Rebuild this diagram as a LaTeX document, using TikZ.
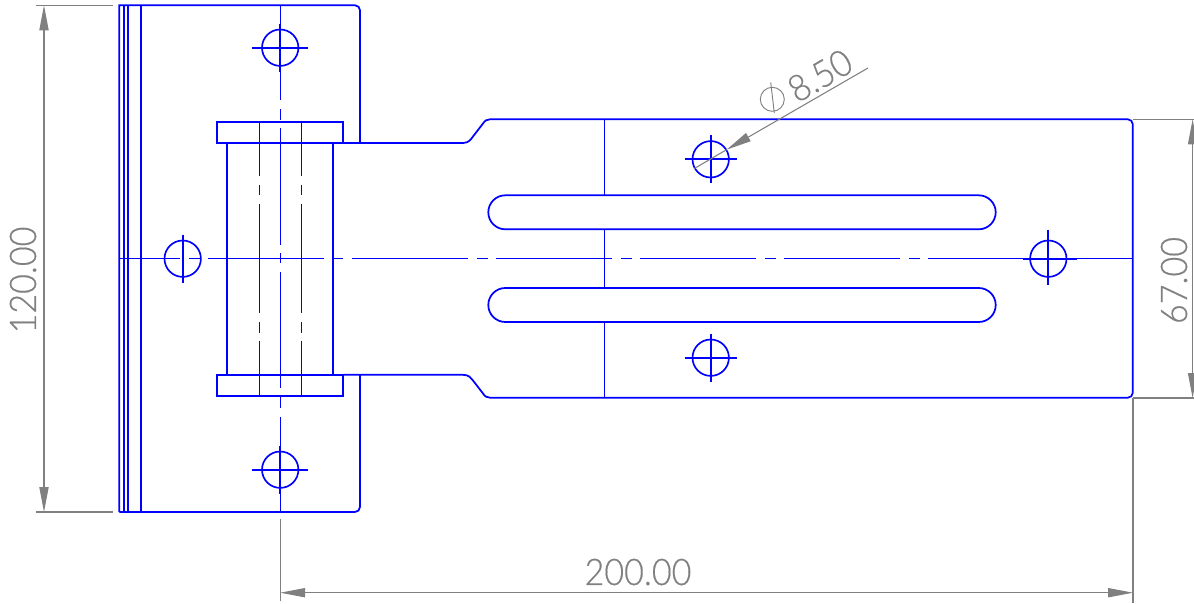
\documentclass[tikz,border=0pt]{standalone}
\usepackage{fontspec}
\usetikzlibrary{arrows.meta}
\newfontfamily\dimfont[FakeStretch=0.93,FakeBold=0.4]{Lato Light}
\definecolor{dimgray}{HTML}{808080}
\tikzset{
  part/.style={draw=blue,line width=1.3pt,line join=miter},
  thin part/.style={draw=blue,line width=1.05pt},
  ext/.style={draw=dimgray,line width=0.8pt},
  dimline/.style={draw=dimgray,fill=none,line width=0.8pt,{Triangle[length=18.75pt,width=6.9pt,fill=dimgray]}-{Triangle[length=18.75pt,width=6.9pt,fill=dimgray]}},
  leader/.style={draw=dimgray,line width=0.8pt},
  dimtext/.style={text=dimgray,inner sep=0pt,font=\dimfont\fontsize{27.5pt}{30pt}\selectfont},
  hole/.style={draw=blue,line width=1.25pt}
}
\begin{document}
\begin{tikzpicture}[x=0.75pt,y=-0.75pt]
\useasboundingbox (0,0) rectangle (1194,603);
% left plate
\draw[part] (119.3,512) -- (119.3,5.3) [rounded corners=3.75pt] -- (360,5.3) -- (360,143) [sharp corners];
\draw[part] (360,375) [rounded corners=3.75pt] -- (360,512) -- (119.3,512) [sharp corners];
\foreach \x in {124,128.3,140.8} \draw[part] (\x,5.3) -- (\x,512);
% flanges and barrel
\draw[part] (216.7,121.8) rectangle (343.3,143);
\draw[part] (216.7,374.8) rectangle (343.3,395.7);
\draw[part] (227,143) -- (227,374.8);
\draw[part] (332.8,143) -- (332.8,374.8);
% right plate
\draw[part] (343.3,143) -- (463,143) .. controls (469,143) and (471,139) .. (473,136.5) -- (483,123.5) .. controls (485,120.5) and (487,119.3) .. (490,119.3)
  [rounded corners=3.75pt] -- (1132.8,119.3) -- (1132.8,397.7) [sharp corners] -- (490,397.7)
  .. controls (487,397.7) and (485,396.5) .. (483,393.5) -- (473,380.5) .. controls (471,378) and (469,374.8) .. (463,374.8) -- (343.3,374.8);
% slots
\draw[part,rounded corners=12.75pt] (488.3,195.3) rectangle (995.7,229.3);
\draw[part,rounded corners=12.75pt] (488.3,288) rectangle (995.7,322);
% bend line
\draw[thin part] (604.7,119.3) -- (604.7,195.3) (604.7,229.3) -- (604.7,288) (604.7,322) -- (604.7,397.7);
% centre lines
\foreach \a/\b in {119.3/180,189/200,208.3/324,333.3/343.3,352/468.3,476.7/488,496/612.3,621/631.7,640/756,765/775.7,784.3/900,909/920,928.3/1133}
  \draw[thin part] (\a,258.7) -- (\b,258.7);
\foreach \a/\b in {5.3/100,109/120,128.3/245,253.3/263,272/388.3,397.3/407.7,416.7/512}
  \draw[thin part] (280.2,\a) -- (280.2,\b);
\foreach \x in {259.2,301.2} \foreach \a/\b in {121.8/175.7,185/195,204/312.7,321.7/332.7,340.7/395.7}
  \draw[thin part] (\x,\a) -- (\x,\b);
% holes
\foreach \cx/\cy/\dx/\dy in {280.2/47.7/28/24,280.2/469.7/28/24,710.7/159.3/26/24,710.7/357.7/26/24}{
  \draw[hole] (\cx,\cy) circle[radius=18.2];
  \draw[hole] (\cx-\dx,\cy) -- (\cx+\dx,\cy) (\cx,\cy-\dy) -- (\cx,\cy+\dy);
}
\draw[hole] (182.7,258.7) circle[radius=18.2];
\draw[hole] (182.7,234.7) -- (182.7,282.7);
\draw[hole] (1048.3,258.7) circle[radius=18.2];
\draw[hole] (1023.3,258.7) -- (1077.3,258.7) (1048.3,229.5) -- (1048.3,285);
% dimension anchors
\coordinate (hT) at (44,5.3);
\coordinate (hB) at (44,512);
\coordinate (wL) at (280.2,592.7);
\coordinate (wR) at (1133,592.7);
\coordinate (vT) at (1192.6,119.3);
\coordinate (vB) at (1192.6,398);
\coordinate (lS) at (694,168.7);
\coordinate (lA) at (726.7,149.6);
\coordinate (lE) at (868,68);
% extension lines
\draw[ext] (36,5.3) -- (113,5.3);
\draw[ext] (36,512) -- (113,512);
\draw[ext] (280.2,519) -- (280.2,600.5);
\draw[ext] (1133,398) -- (1133,603);
\draw[ext] (1133,119.3) -- (1194,119.3);
\draw[ext] (1133,398) -- (1194,398);
% dimension lines
\draw[dimline] (hT) -- (hB);
\draw[dimline] (wL) -- (wR);
\draw[dimline] (vT) -- (vB);
\draw[leader] (lS) -- (lA);
\draw[leader,{Triangle[length=18.75pt,width=6.9pt,fill=dimgray]}-] (lA) -- (lE);
% diameter symbol
\draw[leader,line width=0.7pt] (772.3,99.3) circle[radius=12];
\draw[leader,line width=0.7pt] (770.7,82.3) -- (774.3,113);
% texts
\node[dimtext,rotate=90] (t120) at (23,280) {120.00};
\node[dimtext,rotate=90] (t67) at (1174,280.5) {67.00};
\node[dimtext] (t200) at (638,572) {200.00};
\node[dimtext,rotate=30.1] (t850) at (820,75.5) {8.50};
\end{tikzpicture}
\end{document}
